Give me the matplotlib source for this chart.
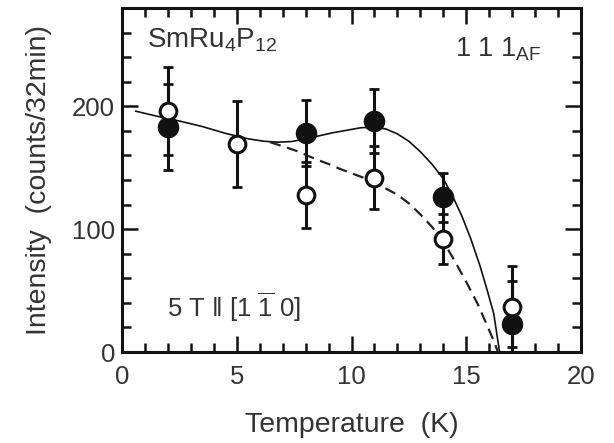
import matplotlib
matplotlib.use("Agg")
import matplotlib.pyplot as plt
from matplotlib.ticker import MultipleLocator

plt.rcParams['font.family'] = ['Liberation Sans', 'DejaVu Sans']
plt.rcParams['mathtext.fontset'] = 'custom'
plt.rcParams['mathtext.rm'] = 'Liberation Sans'
plt.rcParams['mathtext.it'] = 'Liberation Sans:italic'
plt.rcParams['mathtext.bf'] = 'Liberation Sans:bold'

TXT = '#333333'

# filled symbols
t_fill = [2, 8, 11, 14, 17]
i_fill = [183, 178, 188, 126, 23]
e_fill = [35, 27, 26, 20, 35]

# open symbols
t_open = [2, 5, 8, 11, 14, 17]
i_open = [196, 169, 128, 142, 92, 37]
e_open = [36, 35, 27, 26, 20, 33]

# guide lines
t_solid = [0.6, 1.5, 2.5, 3.5, 4.5, 5.5, 6.2, 6.8, 7.4, 8.0, 8.6, 9.2, 9.8,
           10.4, 11.0, 11.5, 12.0, 12.5, 13.0, 13.5, 14.0, 14.4, 14.8, 15.2,
           15.6, 15.9, 16.2, 16.45]
i_solid = [196, 192, 188, 183.5, 178, 173.5, 171.5, 170.8, 171.3, 173.5, 176,
           178.5, 180.5, 182.5, 183, 181.5, 177.5, 171.5, 163, 153, 141, 127,
           111, 92, 70, 51, 31, 0]

t_dash = [6.45, 7.0, 7.6, 8.0, 8.5, 9.0, 9.5, 10.0, 10.5, 11.0, 11.5, 12.0,
          12.5, 13.0, 13.5, 14.0, 14.5, 15.0, 15.5, 15.9, 16.2, 16.38]
i_dash = [170.8, 167.5, 163.7, 160.5, 156.5, 153, 149, 145.5, 142, 137.5, 133,
          128, 121, 112, 102, 90, 74, 57, 39, 22, 9, 0]

fig = plt.figure(figsize=(6.14, 4.43), dpi=100)
ax = fig.add_axes([0.1987, 0.2054, 0.7476, 0.7766])

ax.plot(t_solid, i_solid, color='#111111', lw=1.2, zorder=3)
ax.plot(t_dash, i_dash, color='#222222', lw=1.6, ls=(0, (5, 3)), zorder=3)

ax.errorbar(t_fill, i_fill, yerr=e_fill, fmt='none', ecolor='#111111',
            elinewidth=2.2, capsize=3.5, capthick=2, zorder=2)
ax.errorbar(t_open, i_open, yerr=e_open, fmt='none', ecolor='#111111',
            elinewidth=2.2, capsize=3.5, capthick=2, zorder=2)
ax.plot(t_fill, i_fill, 'o', ms=14.5, mfc='#111111', mec='#111111', zorder=4)
ax.plot(t_open, i_open, 'o', ms=12, mfc='white', mec='#111111', mew=2.2,
        zorder=5)

ax.set_xlim(0, 20)
ax.set_ylim(0, 280)
ax.xaxis.set_major_locator(MultipleLocator(5))
ax.xaxis.set_minor_locator(MultipleLocator(1))
ax.yaxis.set_major_locator(MultipleLocator(100))
ax.yaxis.set_minor_locator(MultipleLocator(20))
ax.tick_params(which='both', direction='in', top=True, right=True,
               width=1.8, colors='#111111', labelcolor=TXT, labelsize=18.5)
ax.tick_params(which='major', length=11.5)
ax.tick_params(which='minor', length=6.5)
ax.tick_params(axis='x', pad=9)
ax.tick_params(axis='y', pad=5)
for s in ax.spines.values():
    s.set_linewidth(2.2)
    s.set_color('#111111')

ax.set_xlabel('Temperature  (K)', fontsize=20.5, color=TXT)
ax.set_ylabel('Intensity  (counts/32min)', fontsize=20.5, color=TXT)
ax.xaxis.set_label_coords(0.5, -0.175)
ax.yaxis.set_label_coords(-0.152, 0.5)

ax.text(0.055, 0.885, r'SmRu$_4$P$_{12}$', transform=ax.transAxes,
        fontsize=20, color=TXT, va='baseline')
ax.text(0.725, 0.86, r'1 1 1$_{\rm AF}$', transform=ax.transAxes,
        fontsize=19.5, color=TXT, va='baseline')
ax.text(0.097, 0.103, r'5 T $\Vert$ [1 $\overline{1}$ 0]',
        transform=ax.transAxes, fontsize=18.5, color=TXT, va='baseline')

fig.savefig('out.png', dpi=100)
